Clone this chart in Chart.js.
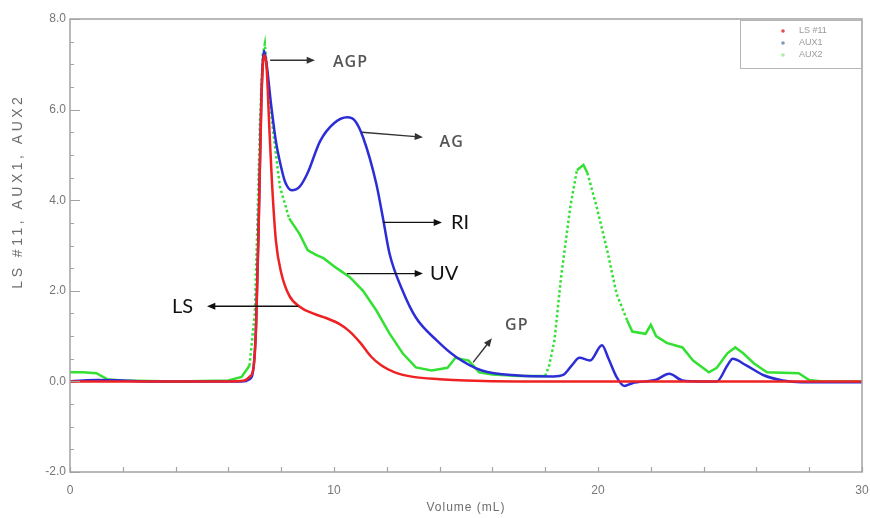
<!DOCTYPE html>
<html>
<head>
<meta charset="utf-8">
<title>Volume (mL)</title>
<script src="https://cdn.jsdelivr.net/npm/chart.js@4/dist/chart.umd.min.js"></script>
<style>
  html, body { margin: 0; padding: 0; background: #fff; }
  canvas { display: block; }
</style>
</head>
<body>
<canvas id="chromChart" width="870" height="518"></canvas>
<script>
// LS #11 (light scattering) trace
const lsVolume = [0, 2, 4, 6, 6.6, 6.8, 6.95, 7.05, 7.15, 7.25, 7.35, 7.45, 7.55, 7.65, 7.8, 8.0, 8.3, 8.7, 9.2, 9.7, 10.2, 10.6, 11.0, 11.4, 11.8, 12.3, 13.0, 14.0, 15.0, 17.0, 20.0, 25.0, 30.0];
const lsSignal = [0, 0, 0, 0, 0.02, 0.1, 0.3, 1.2, 3.5, 6.2, 7.2, 6.9, 5.6, 4.4, 3.1, 2.4, 1.9, 1.65, 1.5, 1.4, 1.27, 1.1, 0.85, 0.55, 0.35, 0.2, 0.1, 0.05, 0.02, 0, 0, 0, 0];

// AUX1 (RI) trace
const aux1Volume = [0, 0.5, 1, 2, 3, 5, 6.5, 6.8, 6.95, 7.05, 7.15, 7.25, 7.35, 7.45, 7.6, 7.8, 7.95, 8.15, 8.4, 8.7, 9.0, 9.47, 10.0, 10.5, 10.8, 11.1, 11.6, 11.85, 12.1, 12.6, 13.1, 13.9, 14.6, 15.6, 17.0, 18.3, 18.7, 19.0, 19.3, 19.7, 20.15, 20.4, 20.7, 21.0, 21.3, 22.2, 22.7, 23.2, 23.9, 24.5, 24.9, 25.1, 25.6, 26.3, 27.0, 27.7, 30.0];
const aux1Signal = [0, 0.02, 0.03, 0.02, 0, 0, 0, 0.05, 0.3, 1.3, 3.6, 6.3, 7.3, 7.0, 6.2, 5.3, 4.85, 4.4, 4.22, 4.3, 4.6, 5.3, 5.7, 5.83, 5.75, 5.39, 4.37, 3.62, 2.83, 2.0, 1.41, 0.9, 0.55, 0.24, 0.13, 0.11, 0.15, 0.35, 0.52, 0.46, 0.8, 0.5, 0.1, -0.1, -0.04, 0.04, 0.17, 0.02, 0, 0, 0.35, 0.5, 0.36, 0.13, 0.02, -0.02, -0.02];

// AUX2 (UV) trace
const aux2Volume = [0, 0.5, 1.0, 1.4, 2, 4, 6, 6.5, 6.8, 7.0, 7.1, 7.2, 7.3, 7.38, 7.5, 7.7, 7.95, 8.3, 8.7, 9.0, 9.3, 9.6, 10.1, 10.6, 11.1, 11.6, 12.1, 12.6, 13.1, 13.7, 14.3, 14.6, 15.1, 15.5, 16.0, 17.0, 18.0, 18.15, 18.35, 18.6, 18.95, 19.2, 19.45, 19.6, 19.95, 20.35, 20.7, 21.1, 21.3, 21.8, 22.0, 22.2, 22.6, 23.2, 23.6, 24.2, 24.5, 24.9, 25.2, 25.5, 25.9, 26.4, 27.6, 28.0, 28.5, 30.0];
const aux2Signal = [0.2, 0.2, 0.18, 0.05, 0.02, 0, 0.02, 0.1, 0.35, 1.5, 3.5, 5.8, 7.2, 7.45, 6.6, 5.5, 4.3, 3.6, 3.25, 2.9, 2.8, 2.72, 2.5, 2.3, 2.0, 1.57, 1.06, 0.62, 0.31, 0.24, 0.3, 0.52, 0.46, 0.2, 0.15, 0.12, 0.12, 0.35, 0.9, 2.3, 3.85, 4.66, 4.78, 4.6, 3.85, 2.89, 1.94, 1.35, 1.1, 1.05, 1.25, 1.0, 0.85, 0.75, 0.46, 0.2, 0.3, 0.62, 0.75, 0.62, 0.4, 0.2, 0.18, 0.03, 0, 0];

const seriesNames = ['LS #11', 'AUX1', 'AUX2'];
const xTickLabels = [0, 10, 20, 30];
const yTickLabels = [-2, 0, 2, 4, 6, 8];

// peak callouts, in axis units
const callouts = [
  { text: 'AGP', from: [7.58, 7.09], to: [9.28, 7.09], at: [9.96, 7.04], kind: 'grey' },
  { text: 'AG',  from: [11.06, 5.50], to: [13.37, 5.39], at: [14.0, 5.28], kind: 'grey' },
  { text: 'RI',  from: [11.86, 3.51], to: [14.09, 3.51], at: [14.43, 3.51], kind: 'dark' },
  { text: 'UV',  from: [10.49, 2.38], to: [13.37, 2.38], at: [13.64, 2.38], kind: 'dark' },
  { text: 'LS',  from: [8.64, 1.66], to: [5.19, 1.66], at: [3.86, 1.66], kind: 'dark' },
  { text: 'GP',  from: [15.27, 0.42], to: [15.98, 0.95], at: [16.48, 1.24], kind: 'grey' }
];

function toPoints(xs, ys) {
  return xs.map((x, i) => ({ x: x, y: ys[i] }));
}

// the UV detector samples sparsely, so steep stretches come out dotted
function sparseWhenSteep(ctx) {
  const dx = Math.abs(ctx.p1.x - ctx.p0.x) || 0.001;
  const dy = Math.abs(ctx.p1.y - ctx.p0.y);
  return dy / dx > 2.2 ? [2.5, 2.5] : undefined;
}

const frameAndTicks = {
  id: 'frameAndTicks',
  afterDraw(chart) {
    const { ctx, chartArea: a, scales } = chart;
    ctx.save();
    ctx.strokeStyle = '#a3a3a3';
    ctx.lineWidth = 1.5;
    ctx.strokeRect(a.left, a.top, a.right - a.left, a.bottom - a.top);

    ctx.lineWidth = 1.2;
    ctx.beginPath();
    scales.y.ticks.forEach(t => {
      const py = Math.round(scales.y.getPixelForValue(t.value)) + 0.5;
      const len = yTickLabels.includes(t.value) ? 10 : 4;
      ctx.moveTo(a.left, py);
      ctx.lineTo(a.left + len, py);
    });
    scales.x.ticks.forEach(t => {
      const px = Math.round(scales.x.getPixelForValue(t.value)) + 0.5;
      ctx.moveTo(px, a.bottom);
      ctx.lineTo(px, a.bottom - 5);
    });
    ctx.stroke();

    // axis titles
    ctx.fillStyle = '#6e6e6e';
    ctx.font = '12px "Liberation Sans", Arial, sans-serif';
    ctx.textAlign = 'center';
    ctx.textBaseline = 'middle';
    ctx.letterSpacing = '1px';
    ctx.fillText('Volume (mL)', (a.left + a.right) / 2, 508);
    ctx.translate(18, a.top + (a.bottom - a.top) * 0.38);
    ctx.rotate(-Math.PI / 2);
    ctx.font = '14px "Liberation Sans", Arial, sans-serif';
    ctx.letterSpacing = '3.5px';
    ctx.fillText('LS #11, AUX1, AUX2', 0, 0);
    ctx.restore();

    // legend box in the top right corner
    ctx.save();
    const bx = 740, by = a.top + 1;
    ctx.strokeStyle = '#b5b5b5';
    ctx.lineWidth = 1;
    ctx.strokeRect(bx + 0.5, by + 0.5, a.right - bx - 1, 48);
    ctx.font = '9px "Liberation Sans", Arial, sans-serif';
    ctx.textBaseline = 'middle';
    ctx.textAlign = 'left';
    const dotColors = ['#e84a4a', '#7f9bb8', '#a8f0a0'];
    chart.data.datasets.forEach((ds, i) => {
      const cy = by + 11 + i * 12;
      ctx.fillStyle = dotColors[i];
      ctx.beginPath();
      ctx.arc(bx + 43, cy, 1.8, 0, Math.PI * 2);
      ctx.fill();
      ctx.fillStyle = '#9a9a9a';
      ctx.fillText(ds.label, bx + 59, cy);
    });
    ctx.restore();
  }
};

const calloutArrows = {
  id: 'calloutArrows',
  afterDatasetsDraw(chart) {
    const { ctx, scales } = chart;
    const X = v => scales.x.getPixelForValue(v);
    const Y = v => scales.y.getPixelForValue(v);
    ctx.save();
    callouts.forEach(c => {
      const x1 = X(c.from[0]), y1 = Y(c.from[1]);
      const x2 = X(c.to[0]), y2 = Y(c.to[1]);
      const ang = Math.atan2(y2 - y1, x2 - x1);
      const head = 9;
      ctx.strokeStyle = c.kind === 'dark' ? '#111' : '#333';
      ctx.fillStyle = ctx.strokeStyle;
      ctx.lineWidth = 1.4;
      ctx.beginPath();
      ctx.moveTo(x1, y1);
      ctx.lineTo(x2 - Math.cos(ang) * head * 0.8, y2 - Math.sin(ang) * head * 0.8);
      ctx.stroke();
      ctx.beginPath();
      ctx.moveTo(x2, y2);
      ctx.lineTo(x2 - head * Math.cos(ang - 0.4), y2 - head * Math.sin(ang - 0.4));
      ctx.lineTo(x2 - head * Math.cos(ang + 0.4), y2 - head * Math.sin(ang + 0.4));
      ctx.closePath();
      ctx.fill();

      ctx.textAlign = 'left';
      ctx.textBaseline = 'middle';
      if (c.kind === 'dark') {
        ctx.fillStyle = '#111';
        ctx.letterSpacing = '0px';
        ctx.font = '20px Lato, "Open Sans", sans-serif';
      } else {
        ctx.fillStyle = '#555';
        ctx.letterSpacing = '1px';
        ctx.font = '600 16px "Open Sans", sans-serif';
      }
      ctx.fillText(c.text, X(c.at[0]), Y(c.at[1]));
    });
    ctx.restore();
  }
};

new Chart(document.getElementById('chromChart'), {
  type: 'line',
  data: {
    datasets: [
      {
        label: seriesNames[0],
        data: toPoints(lsVolume, lsSignal),
        borderColor: '#ee2222',
        borderWidth: 2.5,
        cubicInterpolationMode: 'monotone'
      },
      {
        label: seriesNames[1],
        data: toPoints(aux1Volume, aux1Signal),
        borderColor: '#2d2dd8',
        borderWidth: 2.5,
        cubicInterpolationMode: 'monotone'
      },
      {
        label: seriesNames[2],
        data: toPoints(aux2Volume, aux2Signal),
        borderColor: '#33e033',
        borderWidth: 2.5,
        tension: 0,
        segment: { borderDash: sparseWhenSteep }
      }
    ]
  },
  options: {
    responsive: false,
    animation: false,
    elements: { point: { radius: 0 } },
    layout: { padding: { top: 19, right: 8, left: 0, bottom: 0 } },
    plugins: {
      legend: { display: false },
      tooltip: { enabled: false }
    },
    scales: {
      x: {
        type: 'linear',
        min: 0,
        max: 30,
        grid: { display: false, drawTicks: false, tickLength: 0 },
        border: { display: false },
        ticks: {
          stepSize: 2,
          autoSkip: false,
          maxRotation: 0,
          padding: 11,
          color: '#777',
          font: { size: 12, family: '"Liberation Sans", Arial, sans-serif' },
          callback: v => xTickLabels.includes(v) ? String(v) : ''
        },
        afterFit: s => { s.height = 46; s.paddingLeft = 0; s.paddingRight = 0; }
      },
      y: {
        type: 'linear',
        min: -2,
        max: 8,
        grid: { display: false, drawTicks: false, tickLength: 0 },
        border: { display: false },
        ticks: {
          stepSize: 0.5,
          autoSkip: false,
          padding: 4,
          color: '#777',
          font: { size: 12, family: '"Liberation Sans", Arial, sans-serif' },
          callback: v => yTickLabels.includes(v) ? v.toFixed(1) : ''
        },
        afterFit: s => { s.width = 70; s.paddingTop = 0; s.paddingBottom = 0; }
      }
    }
  },
  plugins: [frameAndTicks, calloutArrows]
});
</script>
</body>
</html>
